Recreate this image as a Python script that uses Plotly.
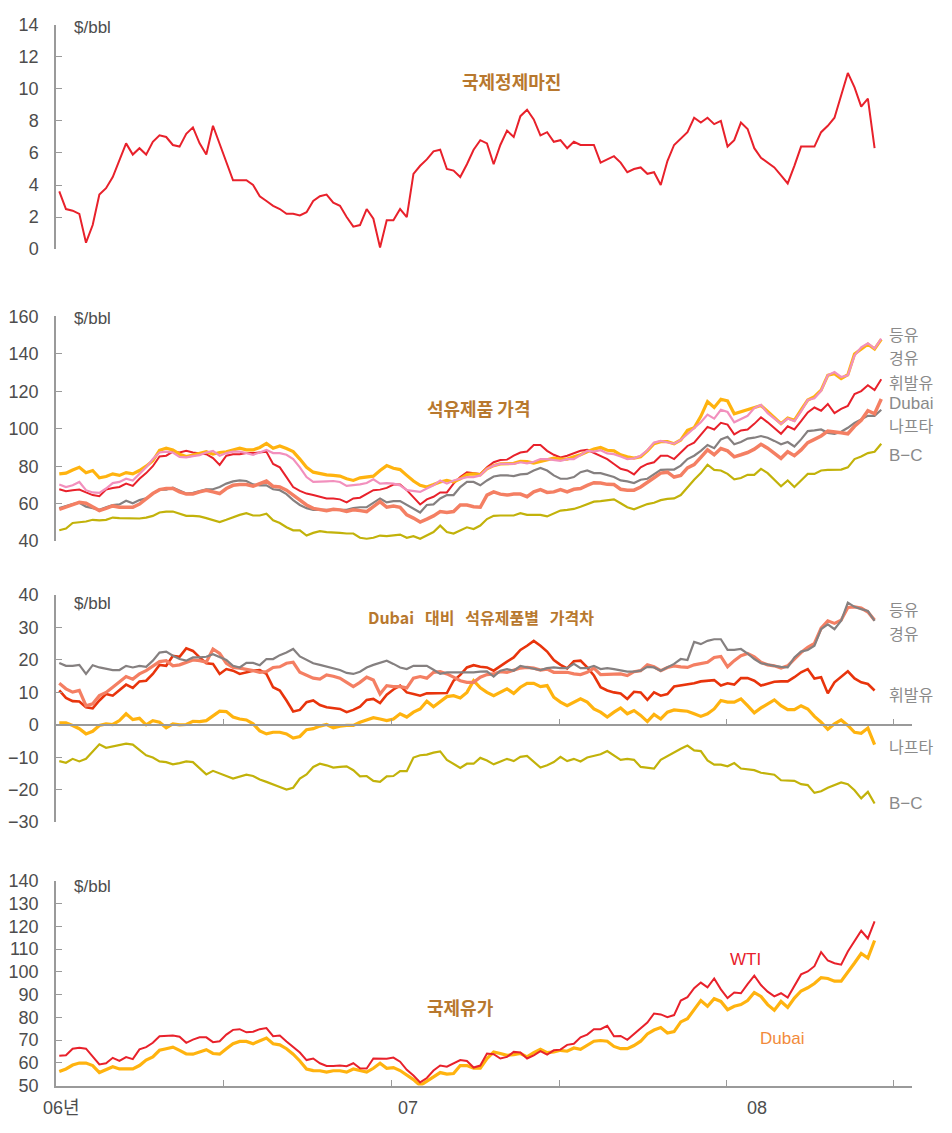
import plotly.graph_objects as go

# ---------------- data (weekly observations, index = week number from Jan 2006) ----------------
# Panel 1: 국제정제마진 ($/bbl)
margin = [3.6, 2.5, 2.4, 2.2, 0.4, 1.5, 3.4, 3.8, 4.5, 5.5, 6.6, 5.9, 6.3, 5.9, 6.7, 7.1, 7.0, 6.5, 6.4, 7.2,
          7.6, 6.6, 5.9, 7.7, 6.6, 5.4, 4.3, 4.3, 4.3, 4.0, 3.3, 3.0, 2.7, 2.5, 2.2, 2.2, 2.1,
          2.3, 3.0, 3.3, 3.4, 2.9, 2.7, 2.0, 1.4, 1.5, 2.5, 1.9, 0.1, 1.8, 1.8, 2.5, 2.0, 4.7, 5.2, 5.6,
          6.1, 6.2, 5.0, 4.9, 4.5, 5.3, 6.2, 6.8, 6.6, 5.3, 6.5, 7.4, 7.0, 8.3, 8.7, 8.1, 7.1, 7.3, 6.7,
          6.8, 6.3, 6.7, 6.5, 6.5, 6.5, 5.4,
          5.6, 5.8, 5.4, 4.8, 5.0, 5.1, 4.7, 4.8, 4.0, 5.5, 6.5, 6.9, 7.3, 8.2, 7.9, 8.2, 7.8, 8.0, 6.4,
          6.8, 7.9, 7.5, 6.3, 5.7, 5.4, 5.1, 4.6, 4.1, 5.2, 6.4, 6.4, 6.4, 7.3, 7.7, 8.2, 9.6, 11.0, 10.1,
          8.9, 9.4, 6.3]

# Panel 2: 석유제품 가격 ($/bbl)
kerosene = [75.9, 76.3, 78.0, 79.4, 76.5, 77.7, 73.8, 74.5, 75.9, 75.1, 76.6, 75.9, 77.7, 80.0, 82.9, 88.5,
            89.6, 88.7, 86.4, 85.2, 85.9, 87.0, 87.7, 86.4, 87.3, 87.7, 88.5, 89.6, 88.7, 88.7, 90.0, 92.2,
            89.6, 90.8, 89.4, 87.8, 83.8,
            79.4, 76.8, 75.9, 75.4, 75.1, 74.7, 73.3, 72.4, 73.8, 74.2, 74.7, 77.7, 80.3, 78.9, 78.2, 75.1,
            72.1, 69.8, 68.9, 70.2, 71.6, 72.4, 71.6, 73.3, 75.6, 75.9, 75.4, 78.6, 80.3, 81.2, 81.2, 81.5,
            82.6, 82.4, 81.7, 82.6, 83.8, 84.3, 83.8, 83.8, 85.0, 86.1, 87.7, 89.1,
            90.0, 88.5, 88.2, 86.1, 85.0, 84.3, 85.0, 88.2, 92.0, 93.1, 93.1, 92.0, 94.0, 99.1, 100.5, 106.6,
            114.5, 111.3, 115.7, 114.8, 108.0, 109.2, 110.1, 111.3, 112.4, 109.2, 106.1, 102.7, 105.7, 104.5,
            110.1, 115.3, 117.1, 120.6, 128.5, 129.4, 126.7, 128.8, 139.9, 142.5, 145.1, 142.5, 147.7]
diesel = [70.2, 68.9, 69.8, 71.6, 67.2, 66.0, 65.8, 68.1, 71.0, 71.6, 73.3, 72.4, 75.9, 79.4, 83.8, 87.3,
          87.8, 87.3, 85.0, 84.7, 85.4, 85.9, 87.3, 88.2, 85.6, 87.0, 87.8, 87.8, 87.0, 86.1, 87.3, 88.7,
          87.0, 87.0, 86.1, 83.8, 79.4,
          74.2, 71.6, 71.6, 71.9, 72.1, 71.6, 69.5, 69.8, 70.3, 71.0, 73.0, 70.7, 71.0, 70.7, 69.8, 67.2,
          66.8, 66.3, 68.1, 69.8, 72.4, 70.7, 72.4, 73.3, 74.2, 74.2, 75.1, 78.6, 80.3, 81.2, 81.2, 81.2,
          82.1, 81.5, 82.4, 83.8, 83.8, 83.3, 82.9, 83.8, 83.8, 85.9, 88.2, 87.8,
          88.5, 86.8, 86.4, 85.2, 83.8, 84.2, 85.6, 88.5, 92.6, 93.5, 92.6, 92.0, 94.0, 97.0, 100.1, 103.4,
          107.5, 105.4, 110.1, 108.9, 103.4, 105.2, 106.9, 111.0, 112.7, 108.3, 105.7, 102.6, 105.4, 104.0,
          109.2, 115.3, 116.2, 120.2, 128.5, 130.2, 127.6, 128.5, 139.0, 143.4, 145.6, 142.8, 148.1]
gasoline = [67.7, 66.7, 67.2, 67.5, 66.0, 64.6, 64.0, 67.5, 68.4, 68.9, 70.7, 69.5, 73.3, 76.3, 80.0, 85.2,
            85.6, 87.7, 87.3, 88.2, 87.3, 87.0, 86.4, 84.3, 80.7, 85.6, 86.4, 86.4, 87.0, 87.0, 87.3, 87.7,
            81.2, 79.4, 74.2, 68.9, 66.8,
            65.4, 64.6, 63.7, 62.8, 62.8, 62.3, 60.7, 62.8, 63.2, 65.1, 67.2, 67.5, 68.4, 70.2, 70.2, 67.2,
            63.3, 59.6, 62.3, 63.7, 66.0, 66.0, 70.7, 74.2, 76.8, 76.3, 75.9, 79.4, 82.1, 83.3, 83.5, 85.6,
            87.3, 87.8, 91.3, 91.3, 88.2, 86.1, 84.7, 85.6, 86.8, 88.2, 88.7, 87.0,
            85.6, 83.8, 81.2, 78.6, 77.7, 75.6, 79.4, 81.2, 82.1, 85.6, 85.6, 83.8, 87.3, 90.8, 92.6, 97.0,
            101.0, 99.6, 103.1, 102.2, 97.0, 99.1, 99.6, 102.6, 106.1, 103.4, 100.1, 97.3, 101.3, 99.6,
            104.0, 108.7, 111.3, 109.6, 113.2, 108.3, 110.6, 112.2, 118.5, 120.1, 123.2, 120.6, 126.4]
dubai_p2 = [57.0, 58.4, 59.6, 60.7, 60.2, 58.4, 56.3, 57.5, 58.8, 58.1, 58.1, 58.1, 59.8, 62.8, 65.4, 67.5,
            68.1, 68.1, 66.3, 65.1, 65.1, 66.3, 67.2, 66.3, 65.4, 68.1, 69.8, 70.2, 70.2, 69.3, 70.7, 72.1,
            69.3, 68.9, 67.2, 64.6, 61.6,
            59.3, 57.5, 56.7, 56.3, 57.0, 56.7, 55.8, 56.7, 56.3, 55.8, 58.4, 61.1, 58.1, 58.8, 58.1, 54.0,
            52.3, 50.2, 51.8, 53.5, 55.8, 55.3, 55.8, 59.3, 59.3, 58.4, 58.1, 64.6, 66.3, 65.1, 64.6, 65.1,
            65.1, 63.7, 66.3, 67.5, 66.0, 66.3, 67.5, 66.3, 67.7, 68.1, 69.8, 71.2,
            71.0, 70.3, 70.2, 67.7, 67.2, 67.2, 68.9, 71.6, 73.8, 76.3, 76.8, 74.2, 75.1, 79.1, 80.8, 84.7,
            88.7, 86.1, 89.4, 88.2, 85.0, 86.1, 87.3, 89.1, 91.7, 89.6, 87.0, 84.2, 87.7, 85.6, 88.7, 92.6,
            94.3, 96.1, 98.7, 98.4, 97.8, 97.3, 101.3, 104.5, 109.6, 108.0, 115.9]
naphtha = [57.6, 58.8, 59.8, 60.5, 58.4, 57.6, 56.7, 58.1, 59.3, 59.6, 61.6, 60.2, 61.9, 62.8, 65.4, 67.5,
           67.5, 68.6, 67.2, 65.4, 65.8, 66.7, 67.7, 67.7, 68.9, 70.7, 71.9, 72.4, 72.1, 70.3, 69.8, 69.8,
           67.7, 67.2, 65.1, 61.9, 59.3,
           57.6, 56.7, 56.7, 56.7, 56.7, 56.7, 56.7, 57.6, 58.1, 58.1, 60.5, 62.8, 60.7, 61.4, 61.4, 59.3,
           57.6, 55.3, 59.3, 59.6, 62.8, 64.6, 64.6, 68.9, 71.6, 71.6, 69.8, 72.4, 74.5, 75.1, 75.1, 74.7,
           75.6, 75.9, 77.7, 79.1, 77.7, 75.1, 73.3, 73.3, 74.2, 76.8, 77.7, 76.3,
           76.3, 75.1, 74.2, 72.4, 71.9, 71.0, 72.8, 73.3, 75.6, 78.0, 78.2, 78.2, 80.3, 83.8, 85.6, 88.2,
           91.3, 89.6, 94.3, 95.7, 91.7, 92.9, 94.7, 95.2, 96.1, 95.2, 93.5, 91.7, 92.9, 90.5, 94.3, 98.7,
           99.1, 99.6, 97.8, 97.3, 98.4, 100.5, 103.1, 104.8, 106.9, 106.9, 110.1]
bunker_c = [45.8, 46.7, 49.7, 50.0, 50.5, 51.4, 51.1, 51.4, 52.6, 52.3, 52.3, 52.3, 52.1, 52.6, 53.5, 55.3,
            55.8, 55.8, 54.6, 53.5, 53.5, 53.2, 52.3, 51.4, 50.2, 51.4, 52.8, 54.0, 54.9, 53.7, 53.7, 54.6,
            51.1, 49.7, 47.4, 45.8, 45.8,
            43.0, 44.4, 45.3, 44.8, 44.4, 44.4, 44.1, 44.1, 41.8, 41.3, 41.8, 43.0, 42.7, 43.2, 43.5, 41.8,
            42.7, 41.3, 43.0, 44.9, 48.3, 44.9, 44.1, 45.8, 47.4, 46.5, 48.3, 51.8, 53.5, 53.7, 53.7, 53.7,
            54.9, 54.0, 54.0, 54.0, 53.2, 54.9, 56.3, 56.7, 57.2, 58.4, 59.6, 61.1,
            61.4, 61.9, 62.3, 60.2, 58.1, 57.0, 58.4, 59.8, 60.5, 61.9, 62.6, 62.8, 64.6, 68.9, 72.8, 76.3,
            80.8, 78.0, 77.7, 75.9, 73.0, 73.7, 75.4, 75.4, 78.6, 76.3, 73.0, 69.3, 72.4, 68.9, 72.4, 75.9,
            75.9, 77.7, 78.0, 78.2, 78.2, 79.4, 83.8, 85.2, 87.0, 87.7, 92.0]

# Panel 3: Dubai 대비 석유제품별 가격차 ($/bbl)
kerosene_sp = [19.1, 18.2, 18.2, 18.5, 15.7, 18.4, 17.7, 17.2, 16.9, 16.9, 18.2, 17.7, 18.2, 17.9, 19.8, 22.3,
               22.6, 21.3, 20.3, 19.8, 20.8, 20.8, 21.0, 21.8, 21.0, 20.0, 18.2, 17.7, 19.1, 19.1, 18.4, 20.3,
               20.3, 21.5, 22.3, 23.4, 21.1,
               20.0, 19.0, 18.5, 17.9, 17.5, 16.9, 16.0, 15.7, 16.4, 17.7, 18.5, 19.1, 19.8, 18.8, 17.7, 17.2,
               18.2, 18.2, 18.2, 17.0, 15.7, 16.2, 16.2, 16.2, 16.0, 16.2, 16.4, 16.5, 14.9, 16.7, 17.2, 16.7,
               18.2, 17.7, 17.2, 16.9, 17.5, 17.7, 17.5, 17.5, 18.8, 17.5, 17.5, 18.2,
               17.2, 17.5, 17.2, 16.7, 16.4, 16.4, 16.7, 17.9, 17.7, 16.7, 17.7, 18.8, 20.3, 20.0, 25.6, 24.9,
               25.9, 26.4, 26.4, 23.1, 23.1, 23.4, 22.0, 20.3, 19.0, 18.5, 18.2, 17.9, 17.7, 20.8, 22.6, 23.1,
               24.4, 29.5, 31.0, 29.5, 32.1, 37.7, 36.4, 35.7, 35.1, 32.1]
diesel_sp = [12.8, 11.1, 10.1, 10.6, 5.9, 6.5, 9.0, 10.0, 11.6, 13.1, 14.9, 14.1, 15.7, 16.7, 18.2, 19.5,
             19.8, 18.2, 18.5, 19.3, 20.0, 19.8, 19.3, 23.4, 22.0, 19.0, 17.7, 17.5, 17.2, 16.7, 16.2, 16.4,
             17.7, 17.9, 19.0, 19.3, 16.2,
             15.2, 14.4, 14.1, 15.4, 15.0, 14.4, 13.1, 11.8, 13.1, 14.7, 13.8, 9.5, 12.1, 11.8, 11.8, 11.4,
             14.4, 14.9, 14.4, 16.2, 16.4, 15.7, 14.7, 13.6, 13.1, 13.1, 14.7, 15.5, 15.7, 16.4, 16.2, 16.9,
             17.5, 17.7, 17.5, 16.9, 17.2, 16.2, 16.2, 16.2, 15.7, 15.5, 16.2, 17.5,
             15.5, 15.5, 15.7, 15.7, 15.2, 16.4, 16.7, 18.5, 17.9, 16.7, 17.7, 18.2, 17.9, 17.7, 18.5, 19.0,
             19.3, 20.8, 21.1, 17.9, 19.8, 21.3, 22.0, 21.0, 19.3, 18.5, 18.2, 17.5, 18.2, 20.3, 22.3, 23.9,
             25.1, 29.8, 32.1, 31.3, 32.3, 36.2, 36.4, 36.0, 34.8, 32.3]
gasoline_sp = [10.6, 8.3, 7.3, 7.2, 5.4, 5.1, 7.5, 9.5, 9.0, 10.6, 12.4, 11.4, 13.4, 13.6, 15.7, 18.5,
               18.2, 21.3, 21.0, 23.6, 22.8, 20.8, 19.0, 18.8, 15.7, 17.2, 16.7, 15.7, 16.2, 16.7, 16.9, 15.7,
               11.6, 10.6, 7.5, 4.1, 4.6,
               7.0, 7.5, 6.1, 5.4, 5.1, 4.9, 3.9, 4.6, 5.6, 7.7, 8.0, 6.7, 9.3, 10.9, 12.1, 10.0,
               9.5, 9.0, 9.7, 9.7, 9.7, 9.8, 13.6, 15.4, 17.7, 18.4, 17.9, 17.7, 16.7, 18.2, 19.5, 20.8,
               23.1, 24.4, 25.9, 24.4, 22.6, 20.0, 18.5, 17.4, 19.6, 19.8, 17.7, 15.2,
               11.6, 10.6, 10.0, 9.7, 8.0, 10.2, 10.0, 7.7, 10.0, 9.0, 9.5, 11.8, 12.1, 12.4, 12.8, 13.4,
               13.6, 13.8, 12.1, 12.8, 12.4, 14.4, 14.4, 13.6, 12.1, 12.8, 13.3, 13.4, 13.4, 14.7, 16.2, 17.2,
               14.3, 14.7, 9.7, 13.1, 14.9, 16.5, 14.3, 13.1, 12.6, 10.6]
naphtha_sp = [0.6, 0.6, -0.2, -1.2, -2.8, -2.0, -0.2, 0.3, 0.1, 1.3, 3.4, 1.6, 2.0, 0.0, 1.3, 0.8,
              -0.9, 0.3, 0.0, 0.1, 1.1, 1.0, 1.3, 2.9, 4.2, 4.1, 2.4, 1.8, 1.5, 0.3, -1.9, -2.8,
              -2.3, -2.3, -2.8, -4.1, -3.6,
              -1.5, -1.2, -0.4, 0.1, -0.9, -0.4, -0.2, -0.2, 0.8, 1.6, 2.2, 1.8, 1.3, 1.8, 3.4, 2.4,
              3.9, 4.9, 7.3, 5.6, 7.0, 8.7, 9.0, 8.3, 10.0, 13.6, 11.4, 10.0, 9.0, 10.0, 11.1, 9.7,
              11.6, 12.8, 12.8, 11.8, 12.1, 8.5, 7.0, 5.9, 7.0, 8.0, 7.0, 4.9,
              3.9, 2.4, 3.9, 5.2, 3.4, 4.4, 2.9, 1.0, 3.2, 1.8, 3.9, 4.6, 4.4, 4.2, 3.4, 2.6,
              3.4, 4.9, 7.5, 7.0, 7.0, 8.0, 5.9, 3.7, 5.2, 6.5, 7.7, 5.9, 4.7, 4.7, 5.9, 4.9,
              2.6, 0.8, -1.4, 0.3, 1.5, -0.2, -2.3, -2.6, -1.0, -6.1]
bunker_c_sp = [-11.2, -11.7, -10.5, -11.3, -10.5, -8.4, -6.0, -7.1, -6.7, -6.1, -5.8, -6.1, -7.7, -9.4, -10.1,
               -11.3, -11.5, -12.2, -11.8, -11.3, -11.5, -13.5, -15.3, -14.2, -14.9, -15.8, -16.6, -16.1,
               -15.4, -15.8, -16.9, -17.6, -18.3, -19.2, -20.0, -19.4, -16.6,
               -15.3, -13.0, -12.0, -12.5, -13.2, -13.0, -12.8, -14.0, -15.9, -15.8, -17.3, -17.6, -15.9,
               -15.8, -14.3, -14.3, -10.1, -9.4, -9.2, -8.6, -8.2, -10.8, -12.0, -13.3, -12.0, -12.0,
               -10.2, -11.0, -12.2, -11.3, -10.5, -11.2, -9.9, -9.6, -11.5, -13.2, -12.5, -11.5, -9.9,
               -11.2, -10.5, -11.3, -10.1, -9.6,
               -9.1, -8.1, -9.4, -10.8, -10.5, -10.8, -13.0, -13.3, -13.5, -10.8, -9.6, -8.4, -7.4, -6.4,
               -7.9, -8.1, -11.0, -12.3, -12.3, -12.8, -11.8, -13.5, -13.7, -14.0, -14.8, -15.1, -15.4,
               -17.1, -17.1, -17.3, -18.3, -18.6, -21.0, -20.5, -19.4, -18.6, -17.8, -18.3, -20.2, -22.7,
               -20.7, -24.3]

# Panel 4: 국제유가 ($/bbl)
wti = [63.1, 63.3, 66.2, 66.6, 66.2, 62.9, 59.3, 59.8, 62.2, 60.8, 62.5, 61.6, 65.9, 66.9, 68.8, 71.7,
       72.0, 72.0, 71.5, 68.8, 70.2, 71.2, 71.2, 69.1, 69.5, 72.4, 74.5, 74.8, 73.4, 73.7, 74.8, 75.3,
       71.7, 72.0, 69.4, 66.9, 64.5,
       61.2, 61.9, 59.8, 58.6, 58.6, 58.8, 58.5, 59.8, 57.6, 57.5, 61.9, 61.9, 61.8, 62.3, 60.5, 56.9,
       54.4, 51.4, 53.3, 56.6, 58.8, 58.3, 59.8, 61.2, 60.8, 57.9, 58.8, 64.1, 63.8, 61.9, 62.6, 64.8,
       64.5, 61.9, 63.3, 65.1, 63.6, 65.5, 65.8, 67.9, 68.4, 71.2, 72.4, 74.8, 74.8,
       76.3, 71.7, 71.8, 70.1, 72.7, 75.3, 77.7, 81.7, 81.3, 80.1, 81.0, 87.4, 88.9, 92.8, 95.3, 93.2,
       97.1, 92.3, 88.5, 90.9, 90.6, 94.6, 98.3, 94.2, 91.3, 89.2, 90.6, 88.7, 93.5, 98.9, 100.2, 102.5,
       108.7, 105.0, 103.8, 103.2, 109.0, 113.6, 118.1, 114.7, 122.2]
dubai = [56.2, 57.3, 59.0, 59.9, 59.9, 58.8, 55.7, 56.9, 58.3, 57.3, 57.3, 57.3, 58.8, 61.2, 62.6, 65.5,
         66.2, 66.9, 65.5, 63.9, 63.8, 64.8, 65.8, 64.1, 63.8, 66.2, 68.4, 69.4, 69.4, 68.4, 69.8, 70.9,
         68.4, 67.9, 66.2, 63.8, 60.8,
         57.3, 56.6, 56.5, 55.9, 56.5, 56.5, 55.9, 57.3, 56.5, 55.9, 57.6, 59.8, 57.6, 57.9, 56.6, 54.7,
         52.6, 50.0, 51.9, 53.7, 55.7, 55.0, 55.3, 58.8, 58.8, 57.6, 57.6, 61.9, 64.8, 64.1, 63.3, 63.6,
         64.1, 62.6, 64.5, 65.9, 64.5, 64.8, 65.5, 65.1, 66.5, 65.9, 67.9, 69.5, 69.8,
         69.5, 67.2, 66.2, 66.2, 67.6, 69.5, 72.7, 74.4, 75.5, 73.1, 73.7, 78.0, 79.4, 83.4, 87.4, 84.9,
         88.2, 87.0, 83.4, 84.9, 85.6, 87.4, 90.9, 89.2, 85.6, 83.1, 87.0, 84.4, 88.5, 91.6, 93.0, 94.9,
         97.5, 97.1, 95.9, 95.9, 100.2, 103.9, 108.1, 106.1, 113.8]

# axis ticks (week index) and year labels
x_ticks = [24.6, 49.7, 74.8, 99.8, 124.8]
year_labels = ["06년", "07", "08"]
year_label_pos = [0.4, 52.2, 104.4]

# ---------------- figure ----------------
# the page body adds an 8px margin, so the figure is 16px smaller and placed 8px in
OFF = 8
W, H = 952 - 2 * OFF, 1133 - 2 * OFF
PLOT_L, PLOT_R = 54, 912          # plot area in page pixels
L = PLOT_L - OFF
R = W - (PLOT_R - OFF)
PW = PLOT_R - PLOT_L
X_RANGE = [-0.49, 127.6]


def py(px):
    return 1 - (px - OFF) / H


def pxx(px):
    return (px - PLOT_L) / PW


GRAY_AXIS = "#9a9a9a"
LATIN = "Liberation Sans, Arial, sans-serif"
TICK_FONT = dict(family=LATIN, size=18, color="#4d4d4d")
KFONT = "Noto Sans CJK KR, Liberation Sans, sans-serif"
TITLE_COLOR = "#b8782e"
LABEL_COLOR = "#8a8a8a"

C_RED = "#e8212b"
C_ORANGE = "#ffb30f"
C_PINK = "#f290bd"
C_SALMON = "#f47f63"
C_GRAY = "#858080"
C_OLIVE = "#c2b20a"
C_RED3 = "#e8340c"

fig = go.Figure()


def add(y, color, width, n):
    fig.add_trace(go.Scatter(x=list(range(len(y))), y=y, mode="lines",
                             line=dict(color=color, width=width),
                             xaxis="x" + ("" if n == 1 else str(n)),
                             yaxis="y" + ("" if n == 1 else str(n)),
                             showlegend=False, hoverinfo="skip"))


add(margin, C_RED, 2, 1)

add(bunker_c, C_OLIVE, 2.2, 2)
add(naphtha, C_GRAY, 2.2, 2)
add(dubai_p2, C_SALMON, 3.5, 2)
add(gasoline, C_RED, 2, 2)
add(kerosene, C_ORANGE, 3.2, 2)
add(diesel, C_PINK, 2.2, 2)

add(bunker_c_sp, C_OLIVE, 2.2, 3)
add(naphtha_sp, C_ORANGE, 3.2, 3)
add(gasoline_sp, C_RED3, 2.6, 3)
add(diesel_sp, C_SALMON, 3.2, 3)
add(kerosene_sp, C_GRAY, 2.2, 3)

add(dubai, C_ORANGE, 3.2, 4)
add(wti, C_RED, 2, 4)

domains = {
    1: [py(243.3), py(15)],
    2: [py(540.7), py(311.7)],
    3: [py(826.7), py(595.7)],
    4: [py(1095), py(886.7)],
}
yranges = {1: [0, 14], 2: [40, 160], 3: [-30, 40], 4: [50, 140]}
ydticks = {1: 2, 2: 20, 3: 10, 4: 10}

layout = dict(
    width=W, height=H,
    margin=dict(l=L, r=R, t=0, b=0),
    paper_bgcolor="white", plot_bgcolor="white",
    showlegend=False,
)

for n in range(1, 5):
    sx = "" if n == 1 else str(n)
    lo, hi = yranges[n]
    step = ydticks[n]
    layout["yaxis" + sx] = dict(
        domain=domains[n], range=[lo, hi], anchor="x" + sx,
        tickvals=list(range(lo, hi + 1, step)),
        ticks="inside", ticklen=6, tickcolor=GRAY_AXIS, tickwidth=1.3,
        showline=True, linecolor=GRAY_AXIS, linewidth=1.5,
        showgrid=False, zeroline=False, tickfont=TICK_FONT,
        ticklabelstandoff=12, fixedrange=True,
    )
    xa = dict(domain=[0, 1], range=X_RANGE, anchor="y" + sx, showgrid=False,
              zeroline=False, fixedrange=True, showticklabels=False)
    if n in (1, 2):
        xa.update(visible=False)
    elif n == 3:
        xa.update(anchor="free", position=py(727.7), showline=True, linecolor=GRAY_AXIS,
                  linewidth=1.5, ticks="inside", ticklen=5, tickcolor=GRAY_AXIS,
                  tickvals=x_ticks)
    else:
        xa.update(showline=True, linecolor=GRAY_AXIS, linewidth=1.5, ticks="inside",
                  ticklen=6, tickcolor=GRAY_AXIS, tickvals=x_ticks)
    layout["xaxis" + sx] = xa

fig.update_layout(**layout)

ann = []


def text(x_px, y_px, s, size, color, anchor="center", family=KFONT):
    ann.append(dict(x=pxx(x_px), y=py(y_px), xref="paper", yref="paper", text=s,
                    showarrow=False, xanchor=anchor, yanchor="middle",
                    font=dict(family=family, size=size, color=color)))


# unit labels
for yy in (17.5, 313.5, 604, 892):
    text(70, yy, "$/bbl", 17, "#4d4d4d", "left", LATIN)

# panel titles
text(510.5, 72, "<b>국제정제마진</b>", 18, TITLE_COLOR)
text(477.5, 405, "<b>석유제품 가격</b>", 18, TITLE_COLOR)
text(479.5, 618, "<b>Dubai   대비   석유제품별   가격차</b>", 16, TITLE_COLOR)
text(459.5, 1015, "<b>국제유가</b>", 18, TITLE_COLOR)

# series labels panel 2
for yy, s, fam in [(329.5, "등유", KFONT), (353, "경유", KFONT), (378.5, "휘발유", KFONT),
                   (401, "Dubai", LATIN), (422.5, "나프타", KFONT), (453, "B−C", LATIN)]:
    text(887, yy, s, 16 if fam == KFONT else 17, LABEL_COLOR, "left", fam)
# series labels panel 3
for yy, s, fam in [(610, "등유", KFONT), (634, "경유", KFONT), (696, "휘발유", KFONT),
                   (749, "나프타", KFONT), (808, "B−C", LATIN)]:
    text(887, yy, s, 16 if fam == KFONT else 17, LABEL_COLOR, "left", fam)

# panel 4 labels
text(745, 967, "WTI", 17, C_RED, family=LATIN)
text(782, 1047, "Dubai", 17, "#f28a3a", family=LATIN)

# year labels under bottom axis
for pos, s in zip(year_label_pos, year_labels):
    ann.append(dict(x=pos, y=py(1118), xref="x4", yref="paper", text=s, showarrow=False,
                    xanchor="center", yanchor="middle",
                    font=dict(family="Liberation Sans, Noto Sans CJK KR, sans-serif", size=18,
                              color="#4d4d4d")))

fig.update_layout(annotations=ann)
fig.write_html("out.html", config={"displayModeBar": False})
